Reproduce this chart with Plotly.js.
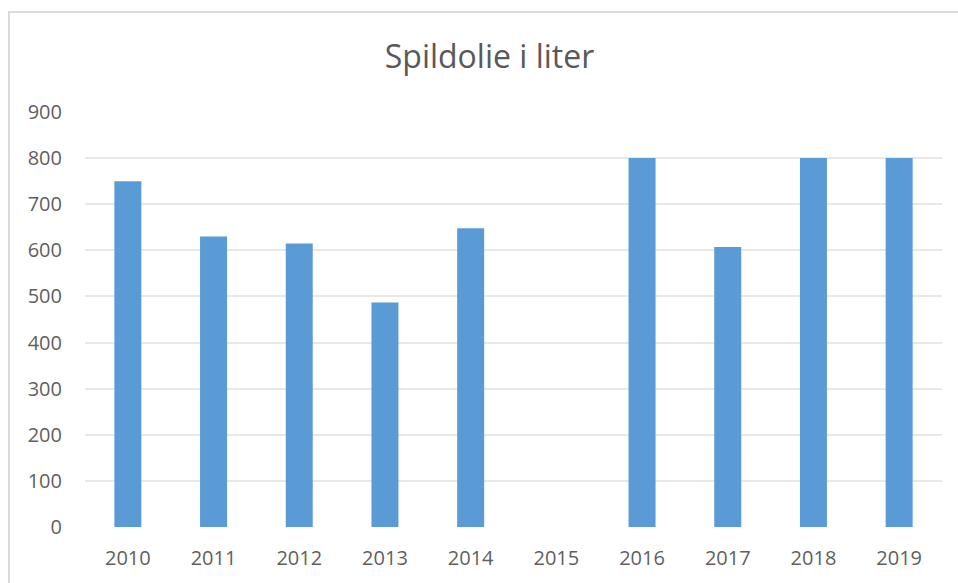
<!DOCTYPE html>
<html>
<head>
<meta charset="utf-8">
<script src="https://cdn.plot.ly/plotly-3.0.1.min.js"></script>
<style>
  html, body { margin: 0; padding: 0; background: #ffffff; }
  #frame { position: absolute; left: 8px; top: 11px; width: 980px; height: 620px;
           border-left: 2px solid #d9d9d9; border-top: 2px solid #d9d9d9; box-sizing: border-box; }
  #chart { position: absolute; left: 0; top: 0; width: 958px; height: 583px; }
</style>
</head>
<body>
<div id="frame"></div>
<div id="chart"></div>
<script>
const years = ["2010", "2011", "2012", "2013", "2014", "2015", "2016", "2017", "2018", "2019"];
const liters = [750, 630, 615, 487, 648, null, 800, 607, 800, 800];
const yTicks = [0, 100, 200, 300, 400, 500, 600, 700, 800, 900];

const trace = {
  type: "bar",
  x: years,
  y: liters,
  marker: { color: "#5b9bd5" },
  hoverinfo: "x+y"
};

const layout = {
  width: 958,
  height: 583,
  paper_bgcolor: "rgba(0,0,0,0)",
  plot_bgcolor: "rgba(0,0,0,0)",
  margin: { l: 85, r: 16, t: 112, b: 56 },
  bargap: 0.685,
  showlegend: false,
  font: { family: "Open Sans, sans-serif", color: "#595959", size: 20 },
  title: {
    text: "Spildolie i liter",
    font: { family: "Open Sans, sans-serif", size: 32, color: "#595959" },
    xref: "container", x: 0.511, xanchor: "center",
    yref: "container", y: 1 - 57 / 583, yanchor: "middle"
  },
  xaxis: {
    type: "category",
    showgrid: false,
    zeroline: false,
    showline: false,
    ticks: "outside", ticklen: 13, tickcolor: "rgba(0,0,0,0)",
    tickfont: { size: 20, color: "#5f5f5f" }
  },
  yaxis: {
    range: [0, 900],
    tickvals: yTicks,
    ticktext: yTicks.map(String),
    showgrid: true,
    gridcolor: "#e8e8e8",
    gridwidth: 2,
    zeroline: false,
    showline: false,
    ticks: "outside", ticklen: 18, tickcolor: "rgba(0,0,0,0)",
    tickfont: { size: 20, color: "#5f5f5f" }
  }
};

Plotly.newPlot("chart", [trace], layout, { displayModeBar: false, staticPlot: true });
</script>
</body>
</html>
